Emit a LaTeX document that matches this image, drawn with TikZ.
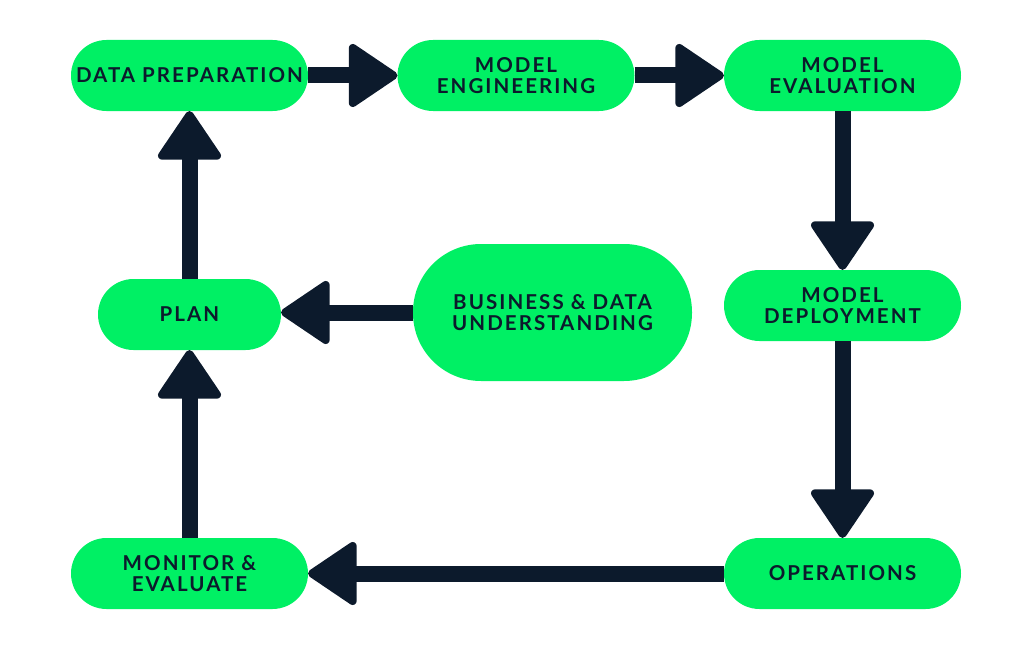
\documentclass[tikz,border=0pt]{standalone}
\usepackage{fontspec}
\setmainfont{Lato}[LetterSpace=10]
\usetikzlibrary{arrows.meta}
\definecolor{boxgreen}{HTML}{00F064}
\definecolor{navy}{HTML}{0C1A2C}
\tikzset{
  stage/.style={fill=boxgreen, text=navy, inner sep=0pt, outer sep=0pt,
    minimum width=237pt, minimum height=71pt, rounded corners=35.5pt,
    align=center, font=\bfseries\fontsize{20.5}{21.7}\selectfont},
  flow/.style={draw=navy, line width=16pt,
    -{Triangle[length=52pt,width=68pt,round,line width=8pt]}},
}
\begin{document}
\begin{tikzpicture}[x=1pt,y=-1pt]
\useasboundingbox (0,0) rectangle (1026,661);
\node[stage] (dp) at (189.5,75.5) {DATA PREPARATION};
\node[stage] (me) at (516,75.5) {MODEL\\ENGINEERING};
\node[stage] (mev) at (842.5,75.5) {MODEL\\EVALUATION};
\node[stage, minimum width=183pt] (plan) at (189.5,314.5) {PLAN};
\node[stage, minimum width=279pt, minimum height=137pt, rounded corners=68pt] (bus) at (552.5,312.5) {BUSINESS \& DATA\\UNDERSTANDING};
\node[stage] (mdep) at (842.5,305.5) {MODEL\\DEPLOYMENT};
\node[stage] (ops) at (842.5,573.5) {OPERATIONS};
\node[stage] (mon) at (189.5,573.5) {MONITOR \&\\EVALUATE};
\draw[flow] (dp) -- (me);
\draw[flow] (me) -- (mev);
\draw[flow] (mev) -- (mdep);
\draw[flow] (mdep) -- (ops);
\draw[flow] (ops) -- (mon);
\draw[flow] (mon) -- (plan);
\draw[flow] (plan) -- (dp);
\draw[flow] (bus.west) -- (bus.west -| plan.east);
\end{tikzpicture}
\end{document}
